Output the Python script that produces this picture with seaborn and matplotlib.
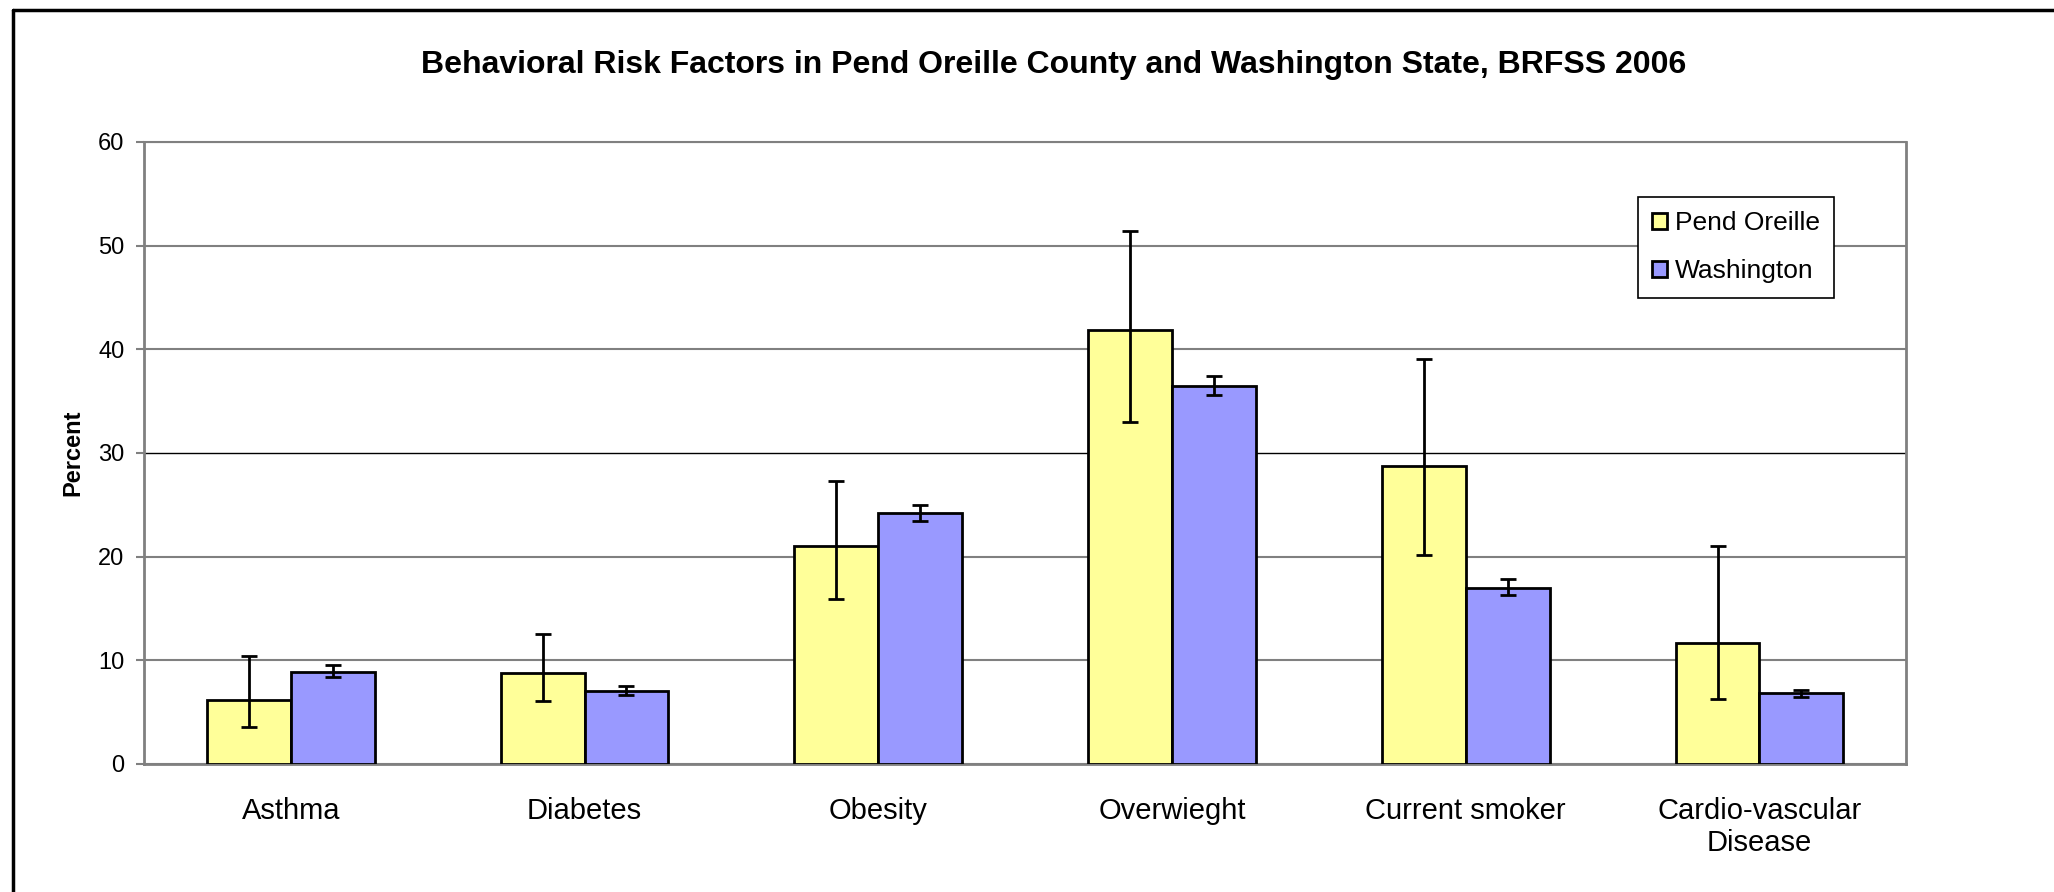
import matplotlib
matplotlib.use("Agg")
import matplotlib.pyplot as plt
from matplotlib.lines import Line2D
from matplotlib.patches import Patch
import seaborn as sns
import pandas as pd
import numpy as np

categories = ["Asthma", "Diabetes", "Obesity", "Overwieght", "Current smoker",
              "Cardio-vascular\nDisease"]
series = ["Pend Oreille", "Washington"]
pend_oreille = [6.2, 8.8, 21.0, 41.9, 28.7, 11.7]
pend_low = [3.6, 6.1, 15.9, 33.0, 20.2, 6.3]
pend_high = [10.4, 12.5, 27.3, 51.4, 39.1, 21.0]
washington = [8.9, 7.0, 24.2, 36.5, 17.0, 6.8]
wash_low = [8.4, 6.7, 23.4, 35.6, 16.3, 6.5]
wash_high = [9.5, 7.5, 25.0, 37.4, 17.8, 7.1]
yticks = [0, 10, 20, 30, 40, 50, 60]
colors = ["#FFFF99", "#9999FF"]

df = pd.DataFrame({
    "Category": categories * 2,
    "Series": [series[0]] * len(categories) + [series[1]] * len(categories),
    "Percent": pend_oreille + washington,
})

sns.set_theme(style="white")
plt.rcParams["font.family"] = ["Liberation Sans", "DejaVu Sans"]
plt.rcParams["text.color"] = "black"
plt.rcParams["axes.labelcolor"] = "black"
plt.rcParams["xtick.color"] = "black"
plt.rcParams["ytick.color"] = "black"

fig = plt.figure(figsize=(20.54, 8.92), dpi=100)
ax = fig.add_axes([0.0701, 0.1435, 0.858, 0.6975])

sns.barplot(data=df, x="Category", y="Percent", hue="Series", order=categories,
            hue_order=series, palette=colors, width=0.571, errorbar=None,
            edgecolor="black", linewidth=2, saturation=1, ax=ax, legend=False,
            zorder=3)

lows = [pend_low, wash_low]
highs = [pend_high, wash_high]
vals = [pend_oreille, washington]
bar_containers = list(ax.containers)
for i, cont in enumerate(bar_containers):
    xs = [p.get_x() + p.get_width() / 2 for p in cont.patches]
    v = np.array(vals[i])
    lo = v - np.array(lows[i])
    hi = np.array(highs[i]) - v
    ax.errorbar(xs, v, yerr=[lo, hi], fmt="none", ecolor="black",
                elinewidth=2, capsize=6, capthick=2, zorder=4)

ax.set_ylim(0, 60)
ax.set_xlim(-0.5, len(categories) - 0.5)
ax.set_yticks(yticks)
ax.set_yticklabels([str(t) for t in yticks], fontsize=17, color="black")
ax.yaxis.grid(True, color="#808080", linewidth=1.5, zorder=0)
ax.get_ygridlines()[3].set_color("black")
ax.get_ygridlines()[3].set_linewidth(1.0)
ax.set_axisbelow(True)

ax.set_xticks(range(len(categories)))
ax.set_xticklabels(categories, fontsize=21, linespacing=1.15, color="black")
ax.set_xticks(np.arange(-0.5, len(categories), 1.0), minor=True)
ax.tick_params(axis="x", which="major", length=0, pad=24, labelcolor="black")
ax.tick_params(axis="x", which="minor", length=9, width=1.5, color="#808080",
               direction="out")
ax.tick_params(axis="y", length=6, width=1.5, color="#808080", direction="out",
               pad=8, labelcolor="black", left=True)

for s in ["left", "right", "top", "bottom"]:
    ax.spines[s].set_visible(True)
    ax.spines[s].set_color("#808080")
    ax.spines[s].set_linewidth(2)
ax.spines["top"].set_linewidth(1.5)

ax.set_xlabel("")
ax.set_ylabel("Percent", fontsize=17, fontweight="bold", color="black")
ax.yaxis.set_label_coords(-0.0336, 0.5)

handles = [Patch(facecolor=c, edgecolor="black", linewidth=2) for c in colors]
leg = ax.legend(handles, series, loc="upper left",
                bbox_to_anchor=(0.8476, 0.9116), borderaxespad=0,
                fontsize=19, frameon=True,
                fancybox=False, edgecolor="black", framealpha=1,
                handlelength=0.55, handleheight=0.55, handletextpad=0.3,
                labelspacing=0.9, borderpad=0.55)
leg.get_frame().set_linewidth(1.2)
for t in leg.get_texts():
    t.set_color("black")

fig.text(0.513, 0.927, "Behavioral Risk Factors in Pend Oreille County and Washington State, BRFSS 2006",
         ha="center", va="center", fontsize=23, fontweight="bold", color="black")

# outer frame
fig.add_artist(Line2D([13 / 2054, 1.0], [1 - 10 / 892, 1 - 10 / 892],
                      color="black", linewidth=2.5, transform=fig.transFigure))
fig.add_artist(Line2D([13 / 2054, 13 / 2054], [0.0, 1 - 10 / 892],
                      color="black", linewidth=2.5, transform=fig.transFigure))

fig.savefig("out.png", dpi=100, facecolor="white")
